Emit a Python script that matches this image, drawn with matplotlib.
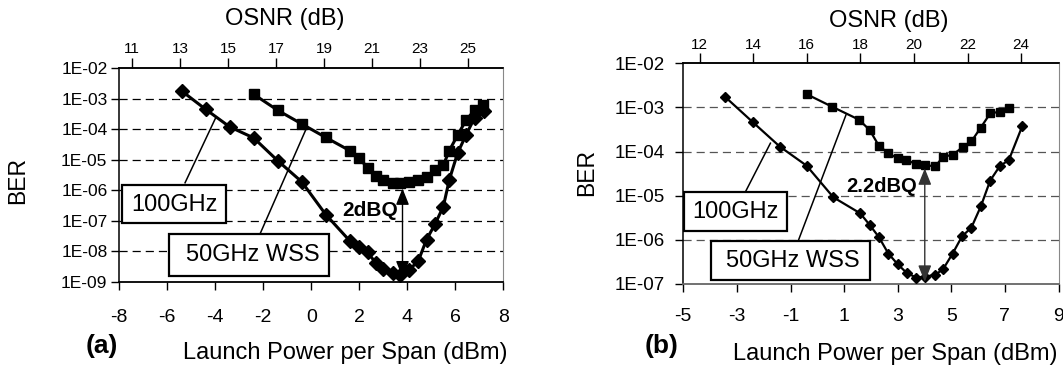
import numpy as np
import matplotlib
matplotlib.use("Agg")
import matplotlib.pyplot as plt
from matplotlib.ticker import FixedLocator, FuncFormatter, NullLocator
from matplotlib.patches import Rectangle

plt.rcParams['font.family'] = ['Liberation Sans', 'DejaVu Sans']
plt.rcParams['axes.unicode_minus'] = False

# ---------------- data ----------------
# panel (a)
a_100_x = [-5.4, -4.4, -3.4, -2.4, -1.4, -0.4, 0.6, 1.6, 2.0, 2.35, 2.7, 3.0, 3.4, 3.7,
           4.05, 4.45, 4.8, 5.15, 5.5, 5.75, 6.1, 6.45, 6.8, 7.2]
a_100_ber = [1.8e-3, 4.5e-4, 1.2e-4, 5.2e-5, 9.3e-6, 1.9e-6, 1.6e-7, 2.2e-8, 1.35e-8, 9.1e-9,
             4.0e-9, 2.6e-9, 2.0e-9, 1.6e-9, 2.4e-9, 4.6e-9, 2.4e-8, 7.6e-8, 2.9e-7, 2.2e-6,
             1.7e-5, 6.5e-5, 2.4e-4, 4.0e-4]
a_50_x = [-2.4, -1.4, -0.4, 0.6, 1.6, 2.0, 2.35, 2.7, 3.0, 3.4, 3.7, 4.05, 4.45, 4.8, 5.15,
          5.5, 5.75, 6.1, 6.45, 6.8, 7.15]
a_50_ber = [1.4e-3, 4.2e-4, 1.5e-4, 5.4e-5, 2.0e-5, 1.1e-5, 5.5e-6, 2.9e-6, 2.1e-6, 1.7e-6,
            1.7e-6, 1.9e-6, 2.1e-6, 2.8e-6, 4.6e-6, 6.6e-6, 2.0e-5, 6.5e-5, 2.0e-4, 4.2e-4, 6.2e-4]
a_osnr_offset = 18.47
a_xticks = [-8, -6, -4, -2, 0, 2, 4, 6, 8]
a_osnr_ticks = [11, 13, 15, 17, 19, 21, 23, 25]
a_ber_ticks = [1e-2, 1e-3, 1e-4, 1e-5, 1e-6, 1e-7, 1e-8, 1e-9]

# panel (b)
b_100_x = [-3.45, -2.4, -1.4, -0.4, 0.6, 1.6, 1.95, 2.3, 2.65, 3.0, 3.35, 3.7, 4.0, 4.4, 4.7,
           5.05, 5.4, 5.75, 6.1, 6.45, 6.8, 7.15, 7.65]
b_100_ber = [1.76e-3, 4.6e-4, 1.3e-4, 4.8e-5, 9.2e-6, 4.0e-6, 2.2e-6, 1.15e-6, 4.9e-7, 2.8e-7,
             1.75e-7, 1.4e-7, 1.47e-7, 1.6e-7, 2.2e-7, 4.9e-7, 1.2e-6, 1.9e-6, 5.7e-6, 2.2e-5,
             4.6e-5, 6.5e-5, 3.8e-4]
b_50_x = [-0.4, 0.55, 1.55, 1.95, 2.3, 2.65, 3.0, 3.3, 3.7, 4.0, 4.4, 4.7, 5.05, 5.45, 5.75,
          6.1, 6.45, 6.8, 7.15]
b_50_ber = [2.0e-3, 1.04e-3, 5.3e-4, 3.1e-4, 1.35e-4, 9.2e-5, 7.0e-5, 6.5e-5, 5.2e-5, 5.0e-5,
            4.6e-5, 7.7e-5, 8.4e-5, 1.3e-4, 1.7e-4, 3.5e-4, 7.3e-4, 8.0e-4, 9.5e-4]
b_osnr_offset = 16.39
b_xticks = [-5, -3, -1, 1, 3, 5, 7, 9]
b_osnr_ticks = [12, 14, 16, 18, 20, 22, 24]
b_ber_ticks = [1e-2, 1e-3, 1e-4, 1e-5, 1e-6, 1e-7]

series_labels = ["100GHz", "50GHz WSS"]

W, H = 1063, 371
fig = plt.figure(figsize=(W / 100, H / 100), dpi=100)


def px_axes(x0, x1, ytop, ybot):
    return [x0 / W, 1 - ybot / H, (x1 - x0) / W, (ybot - ytop) / H]


def ber_fmt(v, pos):
    e = int(round(np.log10(v)))
    return "1E-%02d" % abs(e)


def setup(ax, xlim, xticks, yticks, osnr_off, osnr_ticks, grid_color, ylab_size, ylab_pad,
          xlab_pad, top_pad, bottom_spine_color):
    ax.set_yscale('log')
    ax.set_xlim(*xlim)
    ax.set_ylim(yticks[-1], yticks[0])
    ax.xaxis.set_major_locator(FixedLocator(xticks))
    ax.yaxis.set_major_locator(FixedLocator(yticks))
    ax.yaxis.set_minor_locator(NullLocator())
    ax.yaxis.set_major_formatter(FuncFormatter(ber_fmt))
    ax.tick_params(axis='y', direction='out', length=6, width=1, labelsize=ylab_size,
                   pad=ylab_pad, right=False)
    ax.tick_params(axis='x', direction='out', length=5.5, width=1, labelsize=14,
                   pad=xlab_pad, top=False)
    for v in yticks[1:-1]:
        ax.axhline(v, color=grid_color, lw=0.9, ls=(0, (6.5, 4)), zorder=1)
    ax.spines['right'].set_color('#888888')
    ax.spines['right'].set_linewidth(0.8)
    ax.spines['left'].set_linewidth(1.1)
    ax.spines['top'].set_linewidth(1.1)
    ax.spines['bottom'].set_color(bottom_spine_color)
    ax.spines['bottom'].set_linewidth(1.3)
    sec = ax.secondary_xaxis('top', functions=(lambda p: p + osnr_off, lambda o: o - osnr_off))
    sec.xaxis.set_major_locator(FixedLocator(osnr_ticks))
    sec.xaxis.set_minor_locator(NullLocator())
    sec.tick_params(direction='out', length=7, width=1, labelsize=11, pad=top_pad)
    sec.spines['top'].set_linewidth(1.1)
    return sec


# ---------------- panel (a) ----------------
axa = fig.add_axes(px_axes(119.3, 503.3, 68.3, 281.7))
setup(axa, (-8, 8), a_xticks, a_ber_ticks, a_osnr_offset, a_osnr_ticks, 'black', 12.5, 2.5,
      14.5, 2.0, 'black')
axa.plot(a_100_x, a_100_ber, color='black', lw=2.2, marker='D', ms=6.8, mfc='black',
         mec='black', zorder=4)
axa.plot(a_50_x, a_50_ber, color='black', lw=2.2, marker='s', ms=7.2, mfc='black',
         mec='black', zorder=4)

# leaders and boxes (a)
axa.plot([-5.26, -4.0], [10 ** -5.755, 10 ** -3.65], color='black', lw=1.1, zorder=3)
axa.plot([-2.14, -0.21], [10 ** -7.44, 10 ** -3.98], color='black', lw=1.1, zorder=3)
axa.add_patch(Rectangle((-7.87, 10 ** -7.09), 4.30, 10 ** -5.83 - 10 ** -7.09, fc='white',
                        ec='black', lw=1.6, zorder=5))
axa.add_patch(Rectangle((-5.91, 10 ** -8.81), 6.66, 10 ** -7.44 - 10 ** -8.81, fc='white',
                        ec='black', lw=1.6, zorder=5))
axa.text(-5.70, 10 ** -6.47, series_labels[0], fontsize=17, ha='center', va='center', zorder=6)
axa.text(-2.43, 10 ** -8.13, series_labels[1], fontsize=17, ha='center', va='center', zorder=6)
axa.annotate('', xy=(3.80, 10 ** -8.86), xytext=(3.80, 10 ** -5.94),
             arrowprops=dict(arrowstyle='<|-|>,head_length=1.0,head_width=0.4',
                             mutation_scale=10, lw=1.0, color='black', shrinkA=0, shrinkB=0),
             zorder=6)
axa.text(3.63, 10 ** -6.66, "2dBQ", fontsize=15, fontweight='bold', ha='right', va='center',
         zorder=6)

# ---------------- panel (b) ----------------
axb = fig.add_axes(px_axes(683.3, 1058.5, 63.3, 284.0))
setup(axb, (-5, 9), b_xticks, b_ber_ticks, b_osnr_offset, b_osnr_ticks, '#555555', 13.5, 7,
      12, 1.0, '#666666')
axb.plot(b_100_x, b_100_ber, color='black', lw=1.6, marker='D', ms=5.0, mfc='black',
         mec='black', zorder=4)
axb.plot(b_50_x, b_50_ber, color='black', lw=1.6, marker='s', ms=5.4, mfc='black',
         mec='black', zorder=4)

axb.plot([-2.68, -1.75], [10 ** -4.91, 10 ** -3.81], color='black', lw=1.1, zorder=3)
axb.plot([-0.71, 1.07], [10 ** -6.02, 10 ** -3.17], color='black', lw=1.1, zorder=3)
axb.add_patch(Rectangle((-4.96, 10 ** -5.79), 3.83, 10 ** -4.91 - 10 ** -5.79, fc='white',
                        ec='black', lw=1.6, zorder=5))
axb.add_patch(Rectangle((-3.98, 10 ** -6.91), 5.93, 10 ** -6.02 - 10 ** -6.91, fc='white',
                        ec='black', lw=1.6, zorder=5))
axb.text(-3.04, 10 ** -5.37, series_labels[0], fontsize=17, ha='center', va='center', zorder=6)
axb.text(-0.92, 10 ** -6.48, series_labels[1], fontsize=17, ha='center', va='center', zorder=6)
axb.annotate('', xy=(4.01, 10 ** -6.95), xytext=(4.01, 10 ** -4.38),
             arrowprops=dict(arrowstyle='<|-|>,head_length=1.0,head_width=0.4',
                             mutation_scale=10, lw=1.0, color='#333333', shrinkA=0, shrinkB=0),
             zorder=6)
axb.text(3.73, 10 ** -4.80, "2.2dBQ", fontsize=14.5, fontweight='bold', ha='right',
         va='center', zorder=6)

# ---------------- figure texts ----------------
fig.text(284.5 / W, 1 - 18.5 / H, "OSNR (dB)", fontsize=17, ha='center', va='center')
fig.text(888.8 / W, 1 - 21 / H, "OSNR (dB)", fontsize=17, ha='center', va='center')
fig.text(345 / W, 1 - 353 / H, "Launch Power per Span (dBm)", fontsize=17, ha='center',
         va='center')
fig.text(895.6 / W, 1 - 354 / H, "Launch Power per Span (dBm)", fontsize=17, ha='center',
         va='center')
fig.text(18 / W, 1 - 180 / H, "BER", fontsize=16.5, rotation=90, ha='center', va='center')
fig.text(587 / W, 1 - 173 / H, "BER", fontsize=16.5, rotation=90, ha='center', va='center')
fig.text(101.7 / W, 1 - 346.5 / H, "(a)", fontsize=19, fontweight='bold', ha='center',
         va='center')
fig.text(661.5 / W, 1 - 345.7 / H, "(b)", fontsize=19, fontweight='bold', ha='center',
         va='center')

fig.savefig("out.png", dpi=100)
